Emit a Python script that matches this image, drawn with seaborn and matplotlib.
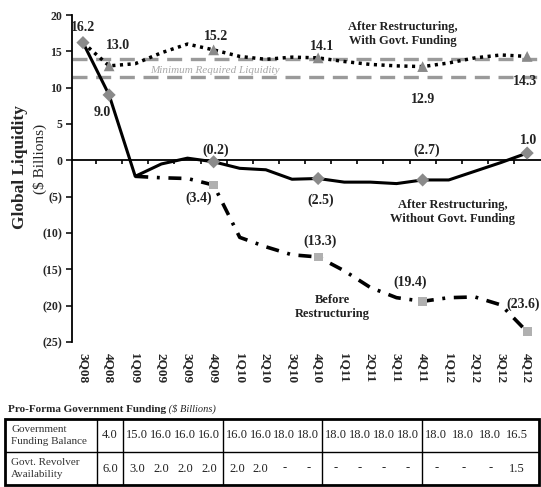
import matplotlib
matplotlib.use("Agg")
import numpy as np
import pandas as pd
import matplotlib.pyplot as plt
import seaborn as sns

# Chart data ($ billions, negatives shown in parentheses)
quarters = ['3Q08', '4Q08', '1Q09', '2Q09', '3Q09', '4Q09', '1Q10', '2Q10', '3Q10',
            '4Q10', '1Q11', '2Q11', '3Q11', '4Q11', '1Q12', '2Q12', '3Q12', '4Q12']
with_funding = [16.2, 13.0, 13.3, 14.8, 16.0, 15.2, 14.3, 13.9, 14.2,
                14.1, 13.6, 13.2, 13.0, 12.9, 13.4, 14.1, 14.5, 14.3]
without_funding = [16.2, 9.0, -2.2, -0.5, 0.3, -0.2, -1.1, -1.3, -2.6,
                   -2.5, -3.0, -3.0, -3.2, -2.7, -2.7, -1.5, -0.3, 1.0]
before_restructuring = [np.nan, np.nan, -2.2, -2.4, -2.5, -3.4, -10.6, -11.9, -13.0,
                        -13.3, -15.2, -17.5, -18.9, -19.4, -18.9, -18.8, -19.9, -23.6]
min_liquidity = [13.9, 11.5]

without_marks = ['3Q08', '4Q08', '4Q09', '4Q10', '4Q11', '4Q12']
with_marks = ['4Q08', '4Q09', '4Q10', '4Q11', '4Q12']
before_marks = ['4Q09', '4Q10', '4Q11', '4Q12']

y_ticks = [20, 15, 10, 5, 0, -5, -10, -15, -20, -25]
y_tick_labels = ['20', '15', '10', '5', '0', '(5)', '(10)', '(15)', '(20)', '(25)']

# Pro-forma government funding table (4Q08 .. 4Q12)
table_rows = ['Government\nFunding Balance', 'Govt. Revolver\nAvailability']
funding_balance = [4.0, 15.0, 16.0, 16.0, 16.0, 16.0, 16.0, 18.0, 18.0,
                   18.0, 18.0, 18.0, 18.0, 18.0, 18.0, 18.0, 16.5]
revolver = [6.0, 3.0, 2.0, 2.0, 2.0, 2.0, 2.0, None, None,
            None, None, None, None, None, None, None, 1.5]


def fmt(v):
    return f"{v:.1f}" if v >= 0 else f"({-v:.1f})"


df = pd.DataFrame({'q': quarters, 'x': np.arange(len(quarters)),
                   'with': with_funding, 'without': without_funding,
                   'before': before_restructuring})

sns.set_style("white")
plt.rcParams['font.family'] = ['Liberation Serif', 'DejaVu Serif']

fig = plt.figure(figsize=(5.41, 4.87), dpi=100)
ax = fig.add_axes([72 / 541, 145 / 487, 469 / 541, 327 / 487])

# minimum required liquidity band
for lvl in min_liquidity:
    ax.axhline(lvl, color='#9a9a9a', lw=2.4, linestyle=(0, (4.5, 2.6)), zorder=1)
ax.text(5.06, 12.4, 'Minimum Required Liquidity', color='#a8a8a8', style='italic',
        fontsize=8, ha='center', va='center')

ax.axhline(0, color='black', lw=1.3, zorder=2)
ax.vlines(np.arange(len(quarters) - 1) + 0.5, -0.55, 0, color='black', lw=1.2, zorder=2)

sns.lineplot(data=df, x='x', y='with', ax=ax, color='black', lw=2.5,
             linestyle=(0, (0.9, 1.3)), zorder=3)
sns.lineplot(data=df, x='x', y='without', ax=ax, color='black', lw=2.2, zorder=3)
sns.lineplot(data=df, x='x', y='before', ax=ax, color='black', lw=2.6,
             linestyle=(0, (3.6, 2.4, 0.8, 2.4)), zorder=3)

m_without = df[df['q'].isin(without_marks)]
m_with = df[df['q'].isin(with_marks)]
m_before = df[df['q'].isin(before_marks)]
sns.scatterplot(data=m_without, x='x', y='without', ax=ax, marker='D', s=45,
                color='#8a8a8a', edgecolor='none', zorder=5)
sns.scatterplot(data=m_with, x='x', y='with', ax=ax, marker='^', s=60,
                color='#8a8a8a', edgecolor='none', zorder=5)
sns.scatterplot(data=m_before, x='x', y='before', ax=ax, marker='s', s=40,
                color='#b0b0b0', edgecolor='none', zorder=5)

# value labels (offsets in points)
lab_kw = dict(textcoords='offset points', ha='center', va='center',
              fontsize=10, fontweight='bold', color='#222222')
without_off = [(0, 11), (-5, -13), (1.5, 8.6), (1.5, -15.4), (2.7, 21.6), (1, 9.4)]
with_off = [(6.7, 15), (2, 9.5), (3, 8), (0, -24), (-1.5, -18)]
before_off = [(-11, -9.5), (1.5, 11), (-9, 14), (-3, 19.5)]
for (_, r), off in zip(m_without.iterrows(), without_off):
    ax.annotate(fmt(r['without']), (r['x'], r['without']), xytext=off, **lab_kw)
for (_, r), off in zip(m_with.iterrows(), with_off):
    ax.annotate(fmt(r['with']), (r['x'], r['with']), xytext=off, **lab_kw)
for (_, r), off in zip(m_before.iterrows(), before_off):
    ax.annotate(fmt(r['before']), (r['x'], r['before']), xytext=off, **lab_kw)

ser_kw = dict(ha='center', va='center', fontsize=9, fontweight='bold',
              color='#222222', linespacing=1.3)
ax.text(12.26, 17.4, 'After Restructuring,\nWith Govt. Funding', **ser_kw)
ax.text(14.14, -7.1, 'After Restructuring,\nWithout Govt. Funding', **ser_kw)
ax.text(9.54, -20.2, 'Before\nRestructuring', **ser_kw)

ax.set_xlim(-0.42, 17.53)
ax.set_ylim(-25, 20)
ax.set_xticks(df['x'])
ax.set_xticklabels(quarters, rotation=-90, fontsize=9.5, fontweight='bold')
ax.set_yticks(y_ticks)
ax.set_yticklabels(y_tick_labels, fontsize=8.5, fontweight='bold')
ax.tick_params(axis='x', length=0, pad=8)
ax.tick_params(axis='y', direction='out', length=4, width=1.3, pad=3, left=True)
ax.set_xlabel('')
ax.set_ylabel('')
for s in ['top', 'right', 'bottom']:
    ax.spines[s].set_visible(False)
ax.spines['left'].set_linewidth(1.3)
ax.spines['left'].set_color('black')

fig.text(20 / 541, 1 - 167 / 487, 'Global Liquidity', rotation=90, fontsize=12.5,
         fontweight='bold', ha='center', va='center')
fig.text(40 / 541, 1 - 159 / 487, '($ Billions)', rotation=90, fontsize=11,
         ha='center', va='center')

# table
title = fig.text(8 / 541, 1 - 409 / 487, 'Pro-Forma Government Funding', fontsize=8,
                 fontweight='bold', va='center', ha='left')
ax.annotate(' ($ Billions)', xy=(1, 0.5), xycoords=title, va='center', ha='left',
            fontsize=7.5, style='italic', annotation_clip=False)

tax = fig.add_axes([5 / 541, 2 / 487, 534 / 541, 66 / 487])
tax.set_xlim(5, 539)
tax.set_ylim(2, 0)
tax.axis('off')
edges = [97, 123, 223, 322, 422, 539]
tax.add_patch(plt.Rectangle((5, 0), 534, 2, fill=False, lw=2, edgecolor='black',
                            clip_on=False))
tax.vlines(edges[:-1], 0, 2, color='black', lw=1)
tax.hlines(1, 5, 539, color='black', lw=1)

pos = [(edges[0] + edges[1]) / 2]
for g in range(1, 5):
    a, b = edges[g], edges[g + 1]
    pos += [a + 2 + (k + 0.5) * (b - a - 4) / 4 for k in range(4)]
pos[-4:] = [pos[-4] - 2 + k * 27 for k in range(4)]

for row, (name, vals) in enumerate(zip(table_rows, [funding_balance, revolver])):
    tax.text(11, row + 0.5, name, ha='left', va='center', fontsize=8,
             color='#333333', linespacing=1.3)
    for p, v in zip(pos, vals):
        tax.text(p, row + 0.5, '-' if v is None else f"{v:.1f}", ha='center',
                 va='center', fontsize=9, color='#222222')

fig.savefig('out.png', dpi=100)
